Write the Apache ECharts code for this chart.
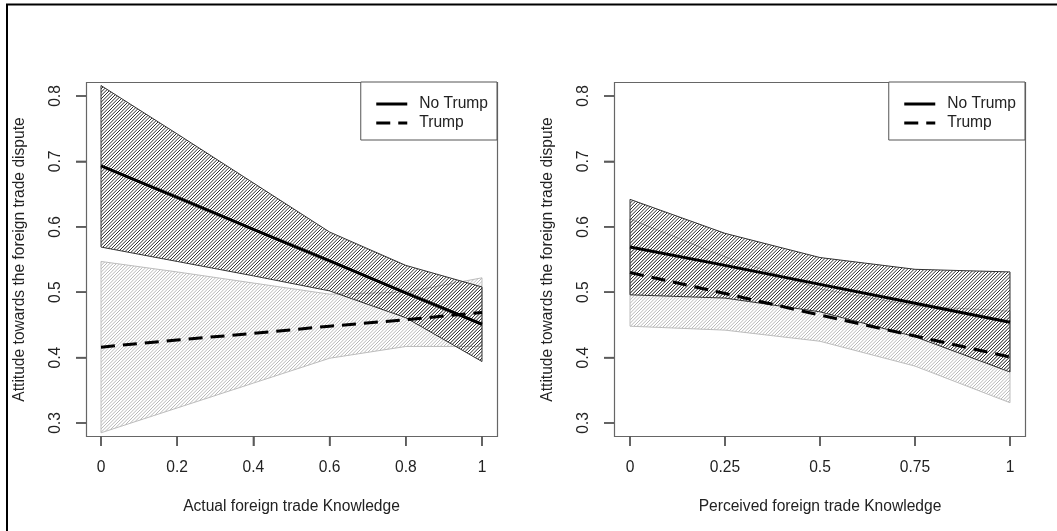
<!DOCTYPE html>
<html><head><meta charset="utf-8">
<script src="https://cdn.jsdelivr.net/npm/echarts@6/dist/echarts.min.js"></script>
<style>html,body{margin:0;padding:0;background:#fff}#c{width:1057px;height:531px}</style>
</head><body><div id="c"></div>
<script>
// ---- data ----
const actualX = [0, 0.2, 0.4, 0.6, 0.8, 1];
const actualNoTrump      = [0.693, 0.645, 0.596, 0.548, 0.499, 0.451];
const actualNoTrumpUpper = [0.816, 0.742, 0.667, 0.592, 0.541, 0.508];
const actualNoTrumpLower = [0.569, 0.547, 0.525, 0.502, 0.461, 0.394];
const actualTrump        = [0.416, 0.427, 0.437, 0.448, 0.458, 0.469];
const actualTrumpUpper   = [0.547, 0.531, 0.514, 0.497, 0.500, 0.522];
const actualTrumpLower   = [0.285, 0.323, 0.361, 0.399, 0.417, 0.417];

const perceivedX = [0, 0.25, 0.5, 0.75, 1];
const perceivedNoTrump      = [0.569, 0.541, 0.512, 0.483, 0.454];
const perceivedNoTrumpUpper = [0.642, 0.590, 0.553, 0.535, 0.531];
const perceivedNoTrumpLower = [0.496, 0.491, 0.470, 0.432, 0.378];
const perceivedTrump        = [0.530, 0.498, 0.465, 0.433, 0.401];
const perceivedTrumpUpper   = [0.612, 0.554, 0.505, 0.479, 0.471];
const perceivedTrumpLower   = [0.448, 0.442, 0.425, 0.387, 0.331];

const actualTicks = [0, 0.2, 0.4, 0.6, 0.8, 1];
const perceivedTicks = [0, 0.25, 0.5, 0.75, 1];
const yTicks = [0.3, 0.4, 0.5, 0.6, 0.7, 0.8];
const xTickStep = [0.2, 0.25];
const yTickStep = 0.1;
const seriesNames = ['No Trump', 'Trump'];
const xTitles = ['Actual foreign trade Knowledge', 'Perceived foreign trade Knowledge'];
const yTitle = 'Attitude towards the foreign trade dispute';

// ---- styling helpers ----
const FONT = '"Liberation Sans", Arial, Helvetica, sans-serif';
const TXT = '#222';
const AX = '#666';
const TICK = '#5a5a5a';
const FS = 15.6;
const FRAMES = [[86, 497], [614, 1025]];
const FRAME_TOP = 82, FRAME_BOTTOM = 436, TICK_LEN = 10;

function hatch(color, w) {
  const c = document.createElement('canvas');
  c.width = 10; c.height = 10;
  const g = c.getContext('2d');
  g.strokeStyle = color; g.lineWidth = w;
  for (let k = 0; k <= 6; k++) {
    const cc = k * 10 / 3;
    g.beginPath(); g.moveTo(cc - 10, 10); g.lineTo(cc, 0); g.stroke();
  }
  return c;
}
const darkPattern = { image: hatch('#2a2a2a', 1), repeat: 'repeat' };
const lightPattern = { image: hatch('#b8b8b8', 1), repeat: 'repeat' };

function band(xs, lo, hi, idx, pattern, stroke, name) {
  return {
    type: 'custom', name: name, xAxisIndex: idx, yAxisIndex: idx, silent: true, z: 1, clip: false,
    data: [[xs[0], lo[0]]],
    renderItem: function (params, api) {
      const pts = [];
      xs.forEach((x, i) => pts.push(api.coord([x, hi[i]])));
      for (let i = xs.length - 1; i >= 0; i--) pts.push(api.coord([xs[i], lo[i]]));
      return { type: 'polygon', shape: { points: pts }, style: { fill: pattern, stroke: stroke, lineWidth: 1 } };
    }
  };
}
function line(xs, ys, idx, name, dashed) {
  return {
    type: 'line', name: name, xAxisIndex: idx, yAxisIndex: idx, z: 3, clip: false,
    symbol: 'none', showSymbol: false, silent: true, color: '#000',
    itemStyle: { color: '#000' },
    data: xs.map((x, i) => [x, ys[i]]),
    lineStyle: { color: '#000', width: 3, type: dashed ? [14, 8] : 'solid' }
  };
}
function xAxis(idx, offset) {
  return {
    type: 'value', gridIndex: idx, min: 0, max: 1, interval: xTickStep[idx], offset: offset,
    name: xTitles[idx], nameLocation: 'middle', nameGap: 63, nameMoveOverlap: false,
    nameTextStyle: { fontFamily: FONT, fontSize: FS, color: TXT },
    axisLine: { show: true, onZero: false, lineStyle: { color: AX, width: 1 } }, splitLine: { show: false },
    axisTick: { show: true, inside: false, length: TICK_LEN, lineStyle: { color: TICK, width: 1.5 } },
    axisLabel: { margin: 24, fontFamily: FONT, fontSize: FS, color: TXT, showMinLabel: true, showMaxLabel: true, hideOverlap: false }
  };
}
function yAxis(idx, offset) {
  return {
    type: 'value', gridIndex: idx, min: 0.3, max: 0.8, interval: yTickStep, offset: offset,
    name: yTitle, nameLocation: 'middle', nameGap: 58, nameMoveOverlap: false,
    nameTextStyle: { fontFamily: FONT, fontSize: FS, color: TXT },
    axisLine: { show: true, onZero: false, lineStyle: { color: AX, width: 1 } }, splitLine: { show: false },
    axisTick: { show: true, inside: false, length: TICK_LEN, lineStyle: { color: TICK, width: 1.5 } },
    axisLabel: { rotate: 90, margin: 22, fontFamily: FONT, fontSize: FS, color: TXT,
      formatter: v => (Math.round(v * 10) / 10).toString(), showMinLabel: true, showMaxLabel: true, hideOverlap: false }
  };
}
function legend(rightPx) {
  return {
    orient: 'vertical', right: rightPx, top: 82,
    data: seriesNames, itemWidth: 31, itemHeight: 14, itemGap: 3,
    padding: [14, 9, 9, 14], borderColor: '#555', borderWidth: 1, borderRadius: 0,
    selectedMode: false, backgroundColor: '#fff',
    itemStyle: { color: 'transparent', borderWidth: 0, opacity: 0 },
    lineStyle: { width: 3, color: '#000' },
    textStyle: { fontFamily: FONT, fontSize: FS, color: TXT, padding: [0, 0, 0, 7] }
  };
}
// plot frame (R box) drawn 4% beyond the data range on each side
function frame(x0, x1) {
  return { type: 'rect', silent: true, z: 0, shape: { x: x0 + 0.5, y: FRAME_TOP + 0.5, width: x1 - x0, height: FRAME_BOTTOM - FRAME_TOP },
           style: { fill: 'none', stroke: AX, lineWidth: 1.2 } };
}

const chart = echarts.init(document.getElementById('c'), null, { renderer: 'canvas' });
chart.setOption({
  animation: false,
  backgroundColor: '#fff',
  grid: [
    { left: 101, top: 96, width: 381, height: 327, show: false },
    { left: 630, top: 96, width: 380, height: 327, show: false }
  ],
  xAxis: [xAxis(0, 13), xAxis(1, 13)],
  yAxis: [yAxis(0, 15), yAxis(1, 16)],
  legend: [legend(1057 - 497), legend(1057 - 1025)],
  series: [
    band(actualX, actualTrumpLower, actualTrumpUpper, 0, lightPattern, '#bdbdbd', 'band-a-t'),
    band(actualX, actualNoTrumpLower, actualNoTrumpUpper, 0, darkPattern, '#333', 'band-a-n'),
    line(actualX, actualNoTrump, 0, seriesNames[0], false),
    line(actualX, actualTrump, 0, seriesNames[1], true),
    band(perceivedX, perceivedTrumpLower, perceivedTrumpUpper, 1, lightPattern, '#bdbdbd', 'band-p-t'),
    band(perceivedX, perceivedNoTrumpLower, perceivedNoTrumpUpper, 1, darkPattern, '#333', 'band-p-n'),
    line(perceivedX, perceivedNoTrump, 1, seriesNames[0], false),
    line(perceivedX, perceivedTrump, 1, seriesNames[1], true)
  ]
});

// tick marks as thin filled rects, placed through the grids' own scales
const gfx = [
  frame(FRAMES[0][0], FRAMES[0][1]),
  frame(FRAMES[1][0], FRAMES[1][1]),
  { type: 'rect', silent: true, shape: { x: 7, y: 4.5, width: 1200, height: 700 }, style: { fill: 'none', stroke: '#000', lineWidth: 2 } }
];
[actualTicks, perceivedTicks].forEach((ticks, gi) => {
  ticks.forEach(t => {
    const p = chart.convertToPixel({ gridIndex: gi }, [t, yTicks[0]]);
    if (!p || !isFinite(p[0])) return;
    gfx.push({ type: 'rect', silent: true, z: 10, shape: { x: p[0] - 0.75, y: FRAME_BOTTOM, width: 1.5, height: TICK_LEN },
               style: { fill: TICK } });
  });
  yTicks.forEach(t => {
    const p = chart.convertToPixel({ gridIndex: gi }, [ticks[0], t]);
    if (!p || !isFinite(p[1])) return;
    const x0 = FRAMES[gi][0];
    gfx.push({ type: 'rect', silent: true, z: 10, shape: { x: x0 - TICK_LEN, y: p[1] - 0.75, width: TICK_LEN, height: 1.5 },
               style: { fill: TICK } });
  });
});
chart.setOption({ graphic: gfx });
</script></body></html>
